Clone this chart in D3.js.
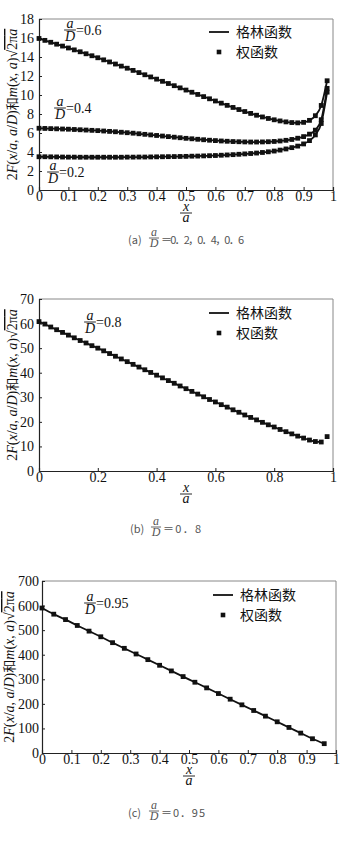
<!DOCTYPE html>
<html>
<head>
<meta charset="utf-8">
<script src="https://cdn.jsdelivr.net/npm/d3@7"></script>
<style>
  body { margin: 0; background: #fff; }
  svg { display: block; }
</style>
</head>
<body>
<svg id="chart" width="354" height="848"></svg>
<script>
// ---- data ----
var xA = [0,0.02,0.04,0.06,0.08,0.1,0.12,0.14,0.16,0.18,0.2,0.22,0.24,0.26,0.28,0.3,0.32,0.34,0.36,0.38,
  0.4,0.42,0.44,0.46,0.48,0.5,0.52,0.54,0.56,0.58,0.6,0.62,0.64,0.66,0.68,0.7,0.72,0.74,0.76,0.78,
  0.8,0.82,0.84,0.86,0.88,0.9,0.92,0.94,0.96,0.98];
var yA06 = [15.95,15.75,15.55,15.35,15.15,14.95,14.75,14.55,14.34,14.13,
  13.92,13.7,13.48,13.26,13.04,12.82,12.59,12.36,12.13,11.9,
  11.67,11.44,11.21,10.98,10.75,10.52,10.29,10.06,9.83,9.6,
  9.37,9.14,8.91,8.69,8.47,8.26,8.06,7.87,7.69,7.53,
  7.39,7.27,7.17,7.1,7.07,7.12,7.33,7.82,8.9,11.5];
var yA04 = [6.5,6.48,6.46,6.44,6.42,6.4,6.37,6.34,6.31,6.28,
  6.25,6.21,6.17,6.13,6.08,6.03,5.98,5.92,5.86,5.8,
  5.74,5.68,5.62,5.56,5.5,5.44,5.39,5.34,5.29,5.24,
  5.2,5.16,5.13,5.1,5.08,5.06,5.05,5.05,5.06,5.08,
  5.11,5.16,5.23,5.32,5.45,5.62,5.88,6.3,7.4,10.7];
var yA02 = [3.5,3.5,3.49,3.48,3.47,3.46,3.46,3.45,3.45,3.45,
  3.45,3.45,3.45,3.45,3.45,3.46,3.46,3.47,3.47,3.48,
  3.49,3.5,3.51,3.52,3.53,3.54,3.56,3.57,3.59,3.61,
  3.63,3.66,3.69,3.72,3.76,3.8,3.84,3.89,3.95,4.02,
  4.1,4.2,4.32,4.46,4.62,4.85,5.2,5.8,7.0,10.3];

var xB = xA;
var yB08 = [60.8,59.8,58.6,57.5,56.4,55.3,54.2,53.1,52.1,51.0,
  50.0,48.9,47.8,46.7,45.6,44.5,43.4,42.3,41.2,40.1,
  39.0,37.9,36.8,35.7,34.6,33.5,32.4,31.3,30.2,29.1,
  28.1,27.0,26.0,24.9,23.9,22.8,21.8,20.8,19.8,18.8,
  17.9,16.9,16.0,15.1,14.2,13.4,12.6,12.0,11.8,14.0];

var xC = [0,0.04,0.08,0.12,0.16,0.2,0.24,0.28,0.32,0.36,0.4,0.44,0.48,0.52,0.56,0.6,0.64,0.68,0.72,0.76,0.8,0.84,0.88,0.92,0.96];
var yC095 = [590,565,543,519,496,473,449,426,403,380,357,334,311,288,265,242,219,196,173,150,127,104,81,58,38];

var xTicksFine = [0,0.1,0.2,0.3,0.4,0.5,0.6,0.7,0.8,0.9,1];
var xTicksCoarse = [0,0.2,0.4,0.6,0.8,1];
var yTicksA = [0,2,4,6,8,10,12,14,16,18];
var yTicksB = [0,10,20,30,40,50,60,70];
var yTicksC = [0,100,200,300,400,500,600,700];

var legendLine = "格林函数", legendDot = "权函数";

var serif = "'Liberation Serif','Times New Roman',serif";
var cjk = "'Noto Sans CJK SC',sans-serif";

var svg = d3.select("#chart");

// fraction a/D drawn at centre cx with bar at y
function frac(g, cx, y, size, color) {
  var t = g.append("g").attr("fill", color).attr("font-family", serif)
    .attr("font-style", "italic").attr("font-size", size + "px").attr("text-anchor", "middle");
  t.append("text").attr("x", cx).attr("y", y - 2).text("a");
  t.append("text").attr("x", cx).attr("y", y + size * 0.76).text("D");
  g.append("line").attr("x1", cx - size * 0.42).attr("x2", cx + size * 0.42)
    .attr("y1", y).attr("y2", y).attr("stroke", color).attr("stroke-width", 0.9);
}

function drawPanel(p) {
  var g = svg.append("g");
  var x = d3.scaleLinear().domain([0, 1]).range([p.left, p.right]);
  var y = d3.scaleLinear().domain([p.yTicks[0], p.yTicks[p.yTicks.length - 1]]).range([p.bottom, p.top]);

  // frame
  g.append("line").attr("x1", p.left).attr("x2", p.right).attr("y1", p.top).attr("y2", p.top)
    .attr("stroke", "#888").attr("stroke-width", 1);
  g.append("line").attr("x1", p.right).attr("x2", p.right).attr("y1", p.top).attr("y2", p.bottom)
    .attr("stroke", "#888").attr("stroke-width", 1);

  var ax = g.append("g").attr("transform", "translate(0," + p.bottom + ")")
    .call(d3.axisBottom(x).tickValues(p.xTicks).tickSize(-3).tickPadding(1)
      .tickFormat(function(d) { return String(+d.toFixed(1)); }));
  var ay = g.append("g").attr("transform", "translate(" + p.left + ",0)")
    .call(d3.axisLeft(y).tickValues(p.yTicks).tickSize(-3).tickPadding(p.yPad));
  [ax, ay].forEach(function(a) {
    a.select(".domain").attr("stroke", "#222").attr("stroke-width", 1.2);
    a.selectAll(".tick line").attr("stroke", "#222");
    a.selectAll("text").attr("font-family", serif).attr("font-size", "14px").attr("fill", "#111");
  });

  // curves + markers
  var line = d3.line().x(function(d) { return x(d[0]); }).y(function(d) { return y(d[1]); })
    .curve(d3.curveMonotoneX);
  p.series.forEach(function(s) {
    var pts = s.x.map(function(v, i) { return [v, s.y[i]]; });
    g.append("path").datum(pts.slice(0, s.lineN || pts.length)).attr("d", line)
      .attr("fill", "none").attr("stroke", "#111").attr("stroke-width", 1.8);
    g.selectAll(null).data(pts).enter().append("rect")
      .attr("x", function(d) { return x(d[0]) - 2.4; })
      .attr("y", function(d) { return y(d[1]) - 2.4; })
      .attr("width", 4.8).attr("height", 4.8).attr("fill", "#111");
  });

  // in-plot labels a/D = value
  p.labels.forEach(function(l) {
    frac(g, l.cx, l.y, 14, "#111");
    g.append("text").attr("x", l.cx + 6).attr("y", l.y + 5)
      .attr("font-family", serif).attr("font-size", "14px").attr("fill", "#111").text("=" + l.text);
  });

  // legend
  var lg = p.legend;
  g.append("line").attr("x1", lg.x).attr("x2", lg.x + 20).attr("y1", lg.y).attr("y2", lg.y)
    .attr("stroke", "#111").attr("stroke-width", 1.8);
  g.append("rect").attr("x", lg.x + 10 - 2.3).attr("y", lg.y + 20 - 2.3).attr("width", 4.6).attr("height", 4.6)
    .attr("fill", "#111");
  g.append("text").attr("x", lg.x + 27).attr("y", lg.y + 5).attr("font-family", cjk)
    .attr("font-size", "14px").attr("fill", "#111").text(legendLine);
  g.append("text").attr("x", lg.x + 27).attr("y", lg.y + 25).attr("font-family", cjk)
    .attr("font-size", "14px").attr("fill", "#111").text(legendDot);

  // y title
  var t = g.append("text").attr("transform", "translate(" + p.titleX + "," + ((p.top + p.bottom) / 2) + ") rotate(-90)")
    .attr("text-anchor", "middle").attr("font-family", serif).attr("font-size", "14px").attr("fill", "#111");
  var parts = [["2", 0], ["F", 1], ["(", 0], ["x", 1], ["/", 0], ["a", 1], [", ", 0], ["a", 1], ["/", 0], ["D", 1], [")", 0],
    ["和", 2], ["m", 1], ["(", 0], ["x", 1], [", ", 0], ["a", 1], [")√", 0]];
  parts.forEach(function(q) {
    var s = t.append("tspan").text(q[0]);
    if (q[1] === 1) s.attr("font-style", "italic");
    if (q[1] === 2) s.attr("font-family", cjk).attr("font-size", "13px");
  });
  var ov = t.append("tspan").style("text-decoration", "overline");
  ov.append("tspan").text("2π");
  ov.append("tspan").attr("font-style", "italic").text("a");

  // x title: fraction x/a
  var xm = (p.left + p.right) / 2;
  var xt = g.append("g").attr("font-family", serif).attr("font-style", "italic").attr("font-size", "14px")
    .attr("text-anchor", "middle").attr("fill", "#111");
  xt.append("text").attr("x", xm).attr("y", p.bottom + 21).text("x");
  xt.append("text").attr("x", xm).attr("y", p.bottom + 32).text("a");
  g.append("line").attr("x1", xm - 6).attr("x2", xm + 6).attr("y1", p.bottom + 23).attr("y2", p.bottom + 23)
    .attr("stroke", "#111").attr("stroke-width", 0.9);

  // caption
  var c = p.caption;
  g.append("text").attr("x", c.x).attr("y", c.y + 4).attr("font-family", cjk).attr("font-size", "11px")
    .attr("fill", "#555").text("(" + c.id + ")");
  frac(g, c.x + 26, c.y - 2, 12, "#555");
  g.append("text").attr("x", c.x + 33).attr("y", c.y + 4).attr("font-family", cjk).attr("font-size", "11px")
    .attr("fill", "#555").attr("textLength", c.w).attr("lengthAdjust", "spacing").text(c.text);
}

drawPanel({
  left: 39, right: 333, top: 19, bottom: 190, yPad: 5, titleX: 17,
  xTicks: xTicksFine, yTicks: yTicksA,
  series: [{ x: xA, y: yA06 }, { x: xA, y: yA04 }, { x: xA, y: yA02 }],
  labels: [{ cx: 70, y: 30, text: "0.6" }, { cx: 60, y: 108, text: "0.4" }, { cx: 53, y: 172, text: "0.2" }],
  legend: { x: 209, y: 32 },
  caption: { x: 128, y: 240, id: "a", text: "＝0．2，0．4，0．6", w: 83 }
});

drawPanel({
  left: 39, right: 333, top: 299, bottom: 471, yPad: 5, titleX: 17,
  xTicks: xTicksCoarse, yTicks: yTicksB,
  series: [{ x: xB, y: yB08, lineN: 49 }],
  labels: [{ cx: 90, y: 322, text: "0.8" }],
  legend: { x: 209, y: 313 },
  caption: { x: 130, y: 529, id: "b", text: "＝0．8", w: 38 }
});

drawPanel({
  left: 42, right: 336, top: 581, bottom: 753, yPad: 3, titleX: 14,
  xTicks: xTicksFine, yTicks: yTicksC,
  series: [{ x: xC, y: yC095 }],
  labels: [{ cx: 90, y: 603, text: "0.95" }],
  legend: { x: 213, y: 595 },
  caption: { x: 128, y: 813, id: "c", text: "＝0．95", w: 44 }
});
</script>
</body>
</html>
